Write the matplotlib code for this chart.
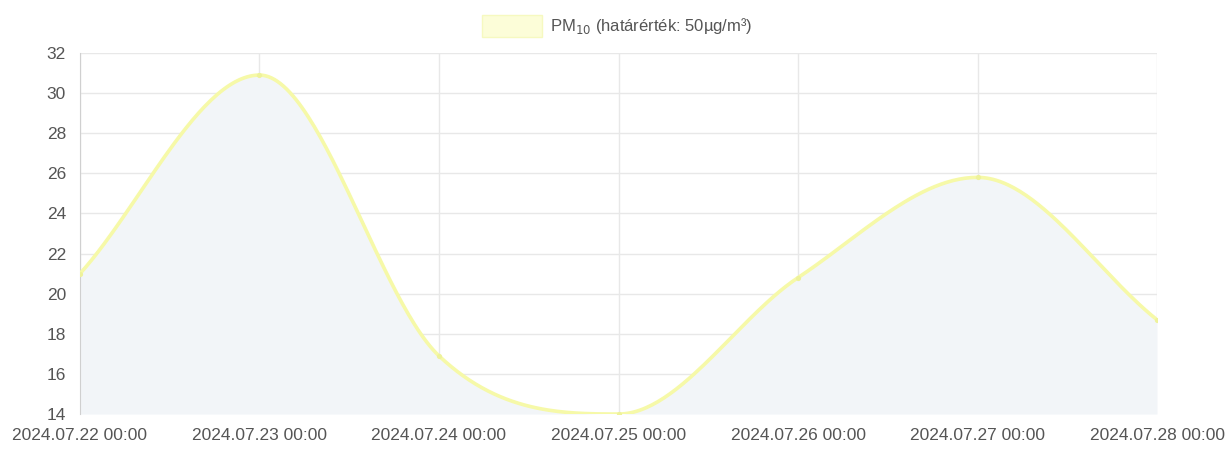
import numpy as np
import matplotlib.pyplot as plt

plt.rcParams['font.family'] = ['Liberation Sans', 'DejaVu Sans']

# daily PM10 values
dates = ["2024.07.22 00:00", "2024.07.23 00:00", "2024.07.24 00:00", "2024.07.25 00:00",
         "2024.07.26 00:00", "2024.07.27 00:00", "2024.07.28 00:00"]
pm10 = [21.0, 30.9, 16.9, 14.0, 20.8, 25.8, 18.7]
y_ticks = [14, 16, 18, 20, 22, 24, 26, 28, 30, 32]
legend_label = "PM$_{10}$ (határérték: 50µg/m³)"

fig = plt.figure(figsize=(12.25, 4.57), dpi=100)
ax = fig.add_axes([0.0653, 0.094, 0.8792, 0.790])

x = np.arange(len(pm10), dtype=float)
y = np.array(pm10)

# monotone cubic interpolation (like chart.js cubicInterpolationMode: 'monotone')
n = len(x)
delta = np.diff(y) / np.diff(x)
m = np.zeros(n)
m[0], m[-1] = delta[0], delta[-1]
for i in range(1, n - 1):
    m[i] = 0 if delta[i - 1] * delta[i] <= 0 else (delta[i - 1] + delta[i]) / 2
for i in range(n - 1):
    if delta[i] == 0:
        m[i] = m[i + 1] = 0
        continue
    a, b = m[i] / delta[i], m[i + 1] / delta[i]
    s = a * a + b * b
    if s > 9:
        tau = 3 / np.sqrt(s)
        m[i], m[i + 1] = tau * a * delta[i], tau * b * delta[i]

cx, cy = [], []
t = np.linspace(0, 1, 60)
for i in range(n - 1):
    h = x[i + 1] - x[i]
    h00 = 2 * t ** 3 - 3 * t ** 2 + 1
    h10 = t ** 3 - 2 * t ** 2 + t
    h01 = -2 * t ** 3 + 3 * t ** 2
    h11 = t ** 3 - t ** 2
    cx.extend(x[i] + t * h)
    cy.extend(h00 * y[i] + h10 * h * m[i] + h01 * y[i + 1] + h11 * h * m[i + 1])
cx, cy = np.array(cx), np.array(cy)

ax.fill_between(cx, 14, cy, color="#f2f5f8", lw=0, zorder=1)
ax.plot(cx, cy, color="#f6f9a8", lw=2.6, zorder=3, solid_capstyle="round")
ax.scatter(x, y, s=14, color="#eef29a", zorder=4, lw=0)

ax.set_xlim(0, n - 1)
ax.set_ylim(14, 32)
ax.set_yticks(y_ticks)
ax.set_xticks(x)
ax.set_xticklabels(dates)
ax.grid(True, color="#e8e8e8", lw=1)
ax.set_axisbelow(True)
for side in ["top", "right", "bottom"]:
    ax.spines[side].set_visible(False)
ax.spines["left"].set_color("#d0d0d0")
ax.tick_params(axis="both", length=0, labelsize=12.5, colors="#555555")
ax.tick_params(axis="x", pad=10)
ax.tick_params(axis="y", pad=10)

# legend drawn chart.js style, centered above plot
fig.patches.append(plt.Rectangle((482 / 1225, 1 - 37 / 457), 60 / 1225, 22 / 457,
                                 transform=fig.transFigure, facecolor="#fcfdd8",
                                 edgecolor="#f6f9c0", lw=1))
fig.text(550 / 1225, 1 - 26 / 457, legend_label, fontsize=12, color="#555555",
         va="center", ha="left")

fig.savefig("out.png", dpi=100)
